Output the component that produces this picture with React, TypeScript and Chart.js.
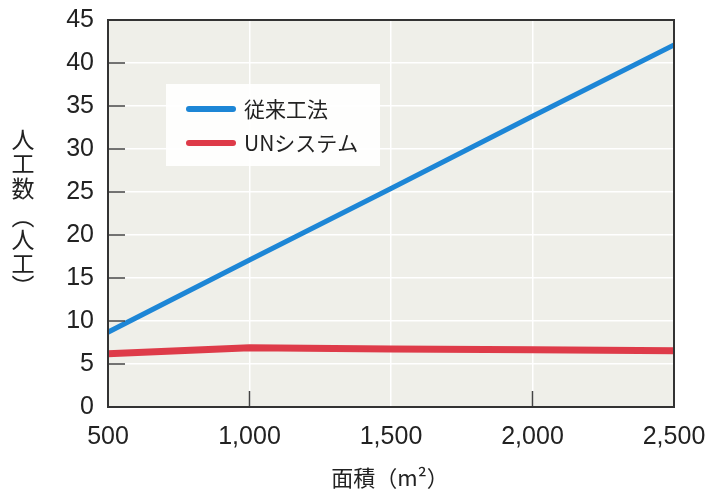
import React, { useEffect, useRef } from "react";
import { Chart, registerables } from "chart.js";

Chart.register(...registerables);

const areas = [500, 1000, 1500, 2000, 2500];
const conventional = [8.7, 17.1, 25.4, 33.8, 42.1];
const unSystem = [6.2, 6.9, 6.75, 6.65, 6.55];
const seriesNames = ["従来工法", "UNシステム"];
const seriesColors = ["#1d86d6", "#de3b49"];
const yTitleChars = ["人", "工", "数", "︵", "人", "工", "︶"];
const xTitle = "面積（m²）";
const innerXTicks = [1000, 2000];

const NUM_FONT = "'Liberation Sans', Arial, sans-serif";
const JP_FONT = "'Noto Sans CJK JP', 'Noto Sans', sans-serif";

const decorPlugin = {
  id: "decor",
  beforeDraw(chart: any) {
    const { ctx, chartArea } = chart;
    ctx.save();
    ctx.fillStyle = "#ffffff";
    ctx.fillRect(0, 0, chart.width, chart.height);
    ctx.fillStyle = "#efefe9";
    ctx.fillRect(chartArea.left, chartArea.top, chartArea.right - chartArea.left, chartArea.bottom - chartArea.top);
    ctx.restore();
  },
  afterDraw(chart: any) {
    const { ctx, chartArea, scales } = chart;
    const { left, right, top, bottom } = chartArea;
    ctx.save();
    // inner ticks
    ctx.strokeStyle = "#444";
    ctx.lineWidth = 1.5;
    for (let v = 5; v < 45; v += 5) {
      const y = scales.y.getPixelForValue(v);
      ctx.beginPath();
      ctx.moveTo(left, y);
      ctx.lineTo(left + 17, y);
      ctx.stroke();
    }
    for (const v of innerXTicks) {
      const x = scales.x.getPixelForValue(v);
      ctx.beginPath();
      ctx.moveTo(x, bottom);
      ctx.lineTo(x, bottom - 16);
      ctx.stroke();
    }
    // border box
    ctx.strokeStyle = "#333";
    ctx.lineWidth = 2;
    ctx.strokeRect(left, top, right - left, bottom - top);

    // legend
    ctx.fillStyle = "rgba(255,255,255,0.9)";
    ctx.fillRect(166, 84, 214, 82);
    const rows = [109, 143];
    for (let i = 0; i < 2; i++) {
      ctx.strokeStyle = seriesColors[i];
      ctx.lineWidth = 6;
      ctx.lineCap = "round";
      ctx.beginPath();
      ctx.moveTo(189, rows[i]);
      ctx.lineTo(233, rows[i]);
      ctx.stroke();
      ctx.fillStyle = "#222";
      ctx.font = `21px ${JP_FONT}`;
      ctx.textAlign = "left";
      ctx.textBaseline = "middle";
      ctx.fillText(seriesNames[i], 244, rows[i]);
    }

    // y title vertical
    ctx.fillStyle = "#222";
    ctx.font = `23px ${JP_FONT}`;
    ctx.textAlign = "center";
    ctx.textBaseline = "middle";
    const ys = [139, 163, 188, 216, 239, 263, 286];
    yTitleChars.forEach((c, i) => ctx.fillText(c, 23, ys[i]));

    // x title
    ctx.font = `22px ${JP_FONT}`;
    ctx.textAlign = "center";
    ctx.fillText(xTitle, 390, 478);
    ctx.restore();
  },
};

export default function App() {
  const ref = useRef<HTMLCanvasElement>(null);
  useEffect(() => {
    document.body.style.margin = "0";
    const chart = new Chart(ref.current!, {
      type: "line",
      data: {
        datasets: [
          {
            label: seriesNames[0],
            data: areas.map((x, i) => ({ x, y: conventional[i] })),
            borderColor: seriesColors[0],
            borderWidth: 5,
            pointRadius: 0,
            tension: 0,
          },
          {
            label: seriesNames[1],
            data: areas.map((x, i) => ({ x, y: unSystem[i] })),
            borderColor: seriesColors[1],
            borderWidth: 7,
            pointRadius: 0,
            tension: 0,
          },
        ],
      },
      options: {
        animation: false,
        responsive: true,
        maintainAspectRatio: false,
        layout: { padding: { top: 20, right: 35, left: 0, bottom: 0 } },
        plugins: { legend: { display: false }, tooltip: { enabled: false } },
        scales: {
          x: {
            type: "linear",
            min: 500,
            max: 2500,
            afterFit: (s: any) => {
              s.height = 86;
              s.paddingLeft = 0;
              s.paddingRight = 0;
            },
            ticks: {
              stepSize: 500,
              padding: 15,
              color: "#222",
              font: { family: NUM_FONT, size: 25 },
              callback: (v: any) => Number(v).toLocaleString("en-US"),
            },
            grid: { color: "#ffffff", lineWidth: 1.5, drawTicks: false },
            border: { display: false },
          },
          y: {
            min: 0,
            max: 45,
            afterFit: (s: any) => {
              s.width = 108;
              s.paddingTop = 0;
              s.paddingBottom = 0;
            },
            ticks: {
              stepSize: 5,
              padding: 14,
              color: "#222",
              font: { family: NUM_FONT, size: 25 },
            },
            grid: { color: "#ffffff", lineWidth: 1.5, drawTicks: false },
            border: { display: false },
          },
        },
      },
      plugins: [decorPlugin],
    });
    return () => chart.destroy();
  }, []);
  return (
    <div style={{ position: "fixed", left: 0, top: 0, width: 709, height: 493 }}>
      <canvas ref={ref} />
    </div>
  );
}
